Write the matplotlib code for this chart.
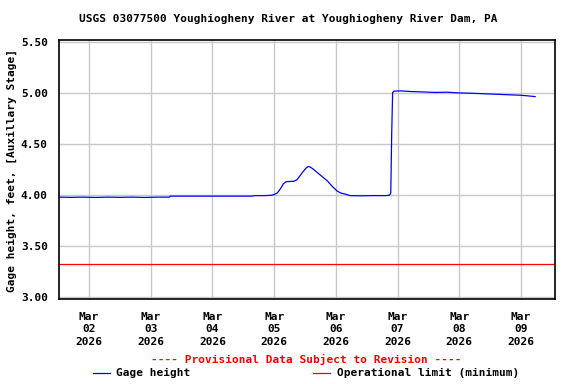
import matplotlib
matplotlib.use("Agg")
import matplotlib.pyplot as plt
from matplotlib.lines import Line2D

# ---- data (day of March 2026, fractional) ----
time_days = [1.52, 1.70, 1.90, 2.10, 2.30, 2.50, 2.70, 2.90, 3.10, 3.30,
             3.32, 3.60, 3.90, 4.20, 4.50, 4.65, 4.68, 4.85, 4.95, 5.00,
             5.05, 5.10, 5.15, 5.19, 5.25, 5.32, 5.37, 5.42, 5.47, 5.52,
             5.55, 5.58, 5.62, 5.70, 5.78, 5.86, 5.95, 6.02, 6.08, 6.15,
             6.23, 6.40, 6.60, 6.80, 6.87, 6.89, 6.905, 6.92, 6.94, 7.05,
             7.20, 7.40, 7.60, 7.80, 8.00, 8.20, 8.40, 8.60, 8.80, 9.00,
             9.10, 9.23]
gage_height = [3.98, 3.978, 3.98, 3.977, 3.98, 3.978, 3.98, 3.977, 3.98, 3.98,
               3.99, 3.99, 3.99, 3.99, 3.99, 3.99, 3.995, 3.995, 3.998, 4.005,
               4.02, 4.06, 4.11, 4.13, 4.133, 4.135, 4.15, 4.19, 4.23, 4.265,
               4.28, 4.275, 4.26, 4.22, 4.18, 4.14, 4.08, 4.04, 4.02, 4.01,
               3.995, 3.993, 3.995, 3.995, 3.998, 4.02, 4.60, 5.00, 5.015, 5.018,
               5.012, 5.008, 5.003, 5.005, 4.998, 4.995, 4.99, 4.985, 4.98, 4.975,
               4.97, 4.962]
operational_limit = 3.33

tick_days = [2, 3, 4, 5, 6, 7, 8, 9]
tick_labels = ["Mar\n02\n2026", "Mar\n03\n2026", "Mar\n04\n2026", "Mar\n05\n2026",
               "Mar\n06\n2026", "Mar\n07\n2026", "Mar\n08\n2026", "Mar\n09\n2026"]
y_ticks = [3.0, 3.5, 4.0, 4.5, 5.0, 5.5]
y_tick_labels = ["3.00", "3.50", "4.00", "4.50", "5.00", "5.50"]

title = "USGS 03077500 Youghiogheny River at Youghiogheny River Dam, PA"
ylabel = "Gage height, feet, [Auxillary Stage]"
provisional = "---- Provisional Data Subject to Revision ----"
legend_labels = ["Gage height", "Operational limit (minimum)"]

FONT = dict(family="DejaVu Sans Mono", weight="bold", size=8)

W, H = 576, 384
fig = plt.figure(figsize=(W / 100, H / 100), dpi=100)
ax = fig.add_axes([59 / W, 1 - 299 / H, (555 - 59) / W, (299 - 40) / H])

ax.plot(time_days, gage_height, color="#0000ff", lw=0.9)
ax.axhline(operational_limit, color="#ff0000", lw=0.9)

ax.set_xlim(1.514, 9.551)
ax.set_ylim(2.985, 5.515)
ax.set_xticks(tick_days)
ax.set_xticklabels(tick_labels, **FONT, linespacing=1.35)
ax.set_yticks(y_ticks)
ax.set_yticklabels(y_tick_labels, **FONT)
ax.tick_params(axis="both", length=0)
ax.tick_params(axis="x", pad=9)
ax.tick_params(axis="y", pad=8)
ax.grid(True, color="#c8c8c8", lw=1)
ax.set_axisbelow(True)
for s in ax.spines.values():
    s.set_linewidth(1.2)
    s.set_color("black")

fig.text(0.5, 1 - 19 / H, title, ha="center", va="center", **FONT)
fig.text(12 / W, 1 - 170 / H, ylabel, rotation=90, ha="center", va="center", **FONT)
fig.text(306 / W, 1 - 359 / H, provisional, ha="center", va="center", color="#ff0000", **FONT)

ly = 1 - 373 / H
fig.add_artist(Line2D([93 / W, 110 / W], [ly, ly], color="#0000ff", lw=0.9, transform=fig.transFigure))
fig.text(116 / W, ly, legend_labels[0], ha="left", va="center", **FONT)
fig.add_artist(Line2D([313 / W, 330 / W], [ly, ly], color="#ff0000", lw=0.9, transform=fig.transFigure))
fig.text(337 / W, ly, legend_labels[1], ha="left", va="center", **FONT)

fig.savefig("out.png", dpi=100)
